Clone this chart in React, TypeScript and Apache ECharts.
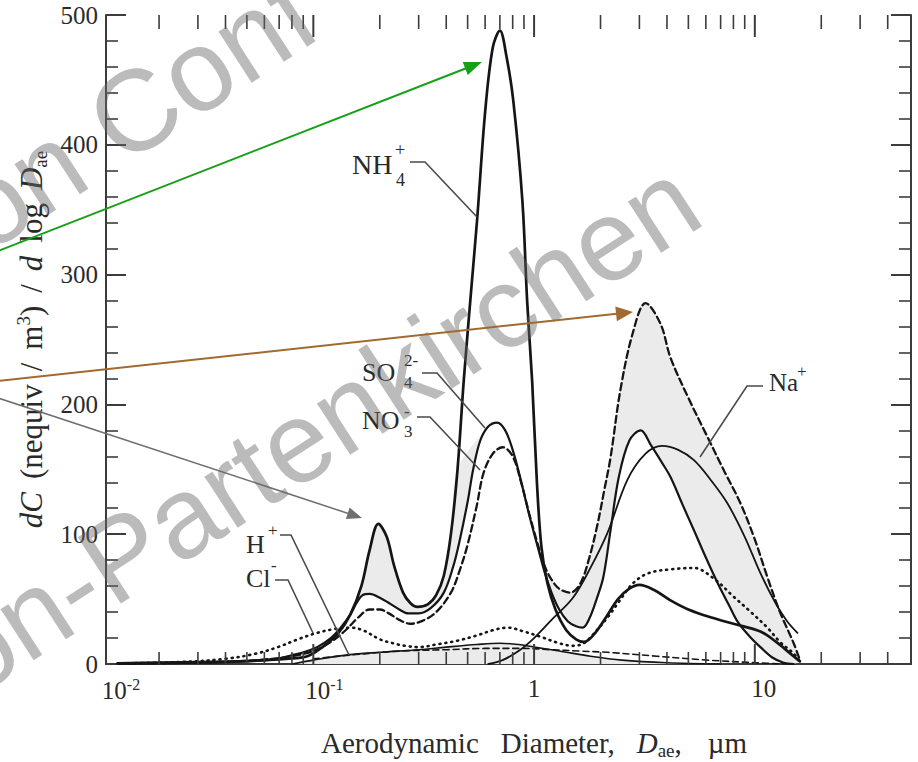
import React, { useEffect, useRef } from "react";
import * as echarts from "echarts";

type P = [number, number];

// ---- data: [aerodynamic diameter (µm), dC/dlogDae (nequiv/m3)] ----
const nh4: P[] = [
  [0.013, 0.5], [0.02, 1], [0.03, 1.5], [0.045, 2], [0.06, 3], [0.075, 4], [0.094, 6], [0.11, 13], [0.13, 24],
  [0.147, 38], [0.165, 60], [0.18, 88], [0.197, 108], [0.215, 98], [0.232, 76], [0.255, 55], [0.275, 47],
  [0.296, 44], [0.33, 46], [0.36, 53], [0.39, 68], [0.42, 100], [0.45, 150], [0.48, 218], [0.52, 290],
  [0.553, 344], [0.6, 425], [0.65, 475], [0.7, 488], [0.75, 468], [0.805, 434], [0.885, 357], [0.93, 280],
  [0.98, 218], [1.03, 140], [1.08, 90], [1.15, 62], [1.25, 42], [1.4, 26], [1.55, 19], [1.68, 17], [1.85, 22],
  [2.1, 35], [2.4, 50], [2.7, 58], [3.0, 61], [3.5, 57], [4.15, 49], [5.0, 42], [6.3, 36], [8.0, 31],
  [10.6, 25], [12.5, 17], [14.5, 8], [16, 2],
];
const so4: P[] = [
  [0.013, 0.3], [0.03, 1], [0.05, 2], [0.065, 3.5], [0.081, 7], [0.094, 10], [0.104, 13], [0.12, 20], [0.133, 28],
  [0.147, 38], [0.157, 47], [0.167, 53], [0.18, 54], [0.2, 51], [0.22, 47], [0.245, 42], [0.27, 39], [0.3, 39],
  [0.34, 43], [0.39, 55], [0.43, 75], [0.46, 95], [0.5, 125], [0.53, 150], [0.57, 172], [0.62, 183], [0.68, 186],
  [0.74, 180], [0.8, 165], [0.87, 142], [0.95, 115], [1.04, 90], [1.12, 70], [1.2, 55], [1.3, 42], [1.42, 33],
  [1.55, 29], [1.66, 28], [1.78, 35], [1.92, 50], [2.06, 67], [2.22, 103], [2.42, 144], [2.7, 172], [3.04, 180],
  [3.4, 168], [3.8, 155], [4.15, 144], [4.7, 123], [5.3, 103], [6.0, 82], [6.8, 62], [7.6, 46], [8.4, 32],
  [9.5, 21], [10.6, 13], [12, 5], [13.5, 1], [15, 0],
];
const no3: P[] = [
  [0.013, 0.3], [0.03, 1], [0.05, 2.5], [0.065, 4], [0.08, 6], [0.1, 10], [0.12, 17], [0.14, 26], [0.16, 36],
  [0.18, 42], [0.2, 42], [0.22, 39], [0.245, 34], [0.275, 31], [0.31, 33], [0.36, 40], [0.42, 55], [0.46, 72],
  [0.5, 92], [0.55, 122], [0.59, 147], [0.65, 162], [0.72, 167], [0.8, 160], [0.87, 141], [0.95, 116], [1.04, 92],
  [1.12, 75], [1.2, 65], [1.3, 58], [1.46, 55], [1.62, 62], [1.78, 82], [1.94, 108], [2.08, 134], [2.22, 159],
  [2.46, 211], [2.8, 255], [3.2, 278], [3.74, 262], [4.15, 236], [5.0, 205], [6.1, 175], [7.3, 148], [8.6, 124],
  [10, 96], [11.4, 67], [13, 40], [15, 16], [16, 3],
];
const naPlus: P[] = [
  [0.62, 0], [0.72, 3], [0.85, 10], [1.0, 20], [1.2, 34], [1.5, 51], [1.8, 74], [2.15, 101], [2.65, 142],
  [3.2, 162], [3.8, 168], [4.5, 165], [5.3, 157], [6.3, 142], [7.5, 124], [9, 98], [10.6, 70], [12.5, 46],
  [14, 33], [15.6, 24],
];
const clMinus: P[] = [
  [0.013, 0.5], [0.025, 1.5], [0.04, 4], [0.055, 8], [0.069, 13], [0.085, 19], [0.104, 24], [0.125, 27],
  [0.147, 28], [0.168, 26], [0.2, 19], [0.23, 16], [0.26, 14], [0.3, 13], [0.36, 15], [0.45, 18], [0.55, 22],
  [0.65, 26], [0.76, 28], [0.9, 25], [1.07, 21], [1.3, 16], [1.5, 14], [1.68, 16], [1.9, 25], [2.2, 38],
  [2.4, 47], [2.8, 62], [3.3, 70], [4.2, 73], [5.3, 74], [6.5, 66], [8, 52], [9.6, 40], [11.4, 28], [13, 17],
  [15, 8], [16, 2],
];
const hPlus: P[] = [
  [0.08, 0], [0.1, 3], [0.143, 7], [0.2, 9], [0.3, 11], [0.4, 13], [0.55, 15], [0.7, 16], [0.85, 15],
  [1.0, 13], [1.3, 10], [1.8, 6], [2.5, 3], [4, 1], [7, 0],
];
const lowDashed: P[] = [
  [0.1, 4], [0.15, 7], [0.25, 10], [0.4, 11], [0.6, 12], [0.9, 12], [1.2, 11], [1.6, 10], [2.15, 9],
  [3.6, 6], [6.1, 3], [10, 1], [14, 0],
];

// ---- axes ----
const xMin = 0.0115;
const xMax = 51;
const xMajorTicks = [0.1, 1, 10];
const xMinorTicks = [
  0.02, 0.03, 0.04, 0.05, 0.06, 0.07, 0.08, 0.09, 0.2, 0.3, 0.4, 0.5, 0.6, 0.7, 0.8, 0.9,
  2, 3, 4, 5, 6, 7, 8, 9, 20, 30, 40,
];
const xTickLabels = ["10|-2", "10|-1", "1", "10"];
const yMin = 0;
const yMax = 500;
const yStep = 100;

const SERIF = "Liberation Serif, DejaVu Serif, serif";
const SANS = "Liberation Sans, Arial, sans-serif";
const INK = "#151515";
const TXT = "#2a2a2a";
const AXIS = "#3c3c3c";
const SHADE = "#ebebeb";

function arrow(x0: number, y0: number, x1: number, y1: number, color: string, w: number, head: number, half: number) {
  const dx = x1 - x0, dy = y1 - y0, L = Math.hypot(dx, dy);
  const ux = dx / L, uy = dy / L;
  const bx = x1 - ux * head, by = y1 - uy * head;
  const px = -uy, py = ux;
  return [
    { type: "line", z: 120, silent: true, shape: { x1: x0, y1: y0, x2: bx + ux * 3, y2: by + uy * 3 }, style: { stroke: color, lineWidth: w } },
    { type: "polygon", z: 120, silent: true, shape: { points: [[x1, y1], [bx + px * half, by + py * half], [bx - px * half, by - py * half]] }, style: { fill: color } },
  ];
}

function txt(x: number, y: number, text: string, size: number) {
  return {
    type: "text", x, y, z: 60, silent: true,
    style: { text, fontSize: size, fontFamily: SERIF, fill: TXT, align: "left", verticalAlign: "middle", textAlign: "left", textVerticalAlign: "middle" },
  };
}
function leader(points: number[][]) {
  return { type: "polyline", z: 60, silent: true, shape: { points }, style: { stroke: "#4a4a4a", lineWidth: 1.6, fill: null } };
}

function bandSeries(upper: P[], lower: P[]) {
  return {
    type: "custom", z: 1, silent: true, data: [[1, 1]],
    renderItem: (_p: any, api: any) => {
      const pts = upper.map((p) => api.coord(p)).concat(lower.slice().reverse().map((p) => api.coord(p)));
      return { type: "polygon", shape: { points: pts, smooth: 0.3 }, style: { fill: SHADE } };
    },
  };
}

function lineSeries(name: string, data: P[], width: number, type: any, extra: any = {}) {
  return {
    name, type: "line", data, smooth: 0.35, symbol: "none", showSymbol: false, z: 3, silent: true,
    lineStyle: { color: INK, width, type, cap: "round" },
    ...extra,
  };
}

export default function App() {
  const ref = useRef<HTMLDivElement>(null);
  useEffect(() => {
    const chart = echarts.init(ref.current!, null, { renderer: "svg" });
    const tickData = [...xMajorTicks.map((v) => [v, 1, 1]), ...xMinorTicks.map((v) => [v, 1, 0])];
    const labelRich = {
      b2: { fontSize: 25, fontFamily: SERIF, color: TXT, padding: [0, 0, 0, 30] },
      b1: { fontSize: 25, fontFamily: SERIF, color: TXT, padding: [0, 0, 0, 22] },
      n0: { fontSize: 25, fontFamily: SERIF, color: TXT },
      n10: { fontSize: 25, fontFamily: SERIF, color: TXT, padding: [0, 0, 0, 18] },
      s: { fontSize: 16, fontFamily: SERIF, color: TXT, verticalAlign: "top", lineHeight: 28 },
    };
    const xFormatter = (v: number) => {
      if (v > 20) return "";
      const e = Math.round(Math.log10(v));
      const lab = e <= -2 ? xTickLabels[0] : e === -1 ? xTickLabels[1] : e === 0 ? xTickLabels[2] : xTickLabels[3];
      if (lab.includes("|")) {
        const [b, s] = lab.split("|");
        return `{${e <= -2 ? "b2" : "b1"}|${b}}{s|${s}}`;
      }
      return `{${e === 0 ? "n0" : "n10"}|${lab}}`;
    };

    const graphic: any[] = [
      // watermark
      {
        type: "text", x: -3, y: 269, rotation: (33 * Math.PI) / 180, z: 90, silent: true,
        style: { text: "on Conf", fontSize: 115, fontFamily: SANS, fill: "rgba(105,105,105,0.45)", align: "left", verticalAlign: "bottom", textAlign: "left", textVerticalAlign: "bottom" },
      },
      {
        type: "text", x: -17, y: 714, rotation: (33 * Math.PI) / 180, z: 90, silent: true,
        style: { text: "on-Partenkirchen", fontSize: 115, fontFamily: SANS, fill: "rgba(105,105,105,0.45)", align: "left", verticalAlign: "bottom", textAlign: "left", textVerticalAlign: "bottom" },
      },
      // labels
      txt(352, 164, "NH", 28), txt(395, 150, "+", 18), txt(396, 180, "4", 18),
      leader([[410, 162], [425, 162], [477, 217]]),
      txt(362, 372, "SO", 26), txt(404, 360, "2-", 17), txt(404, 382, "4", 17),
      leader([[422, 373], [437, 373], [485, 428]]),
      txt(362, 420, "NO", 26), txt(404, 411, "-", 17), txt(404, 431, "3", 17),
      leader([[417, 417], [430, 417], [480, 470]]),
      txt(246, 544, "H", 26), txt(268, 530, "+", 17),
      leader([[280, 535], [291, 535], [349, 655]]),
      txt(246, 578, "Cl", 26), txt(271, 565, "-", 17),
      leader([[275, 580], [288, 580], [313, 633]]),
      txt(769, 382, "Na", 25), txt(797, 371, "+", 17),
      leader([[763, 386], [747, 386], [700, 457]]),
      // coloured arrows
      ...arrow(-2, 251, 482, 62, "#16a016", 2, 18, 7),
      ...arrow(-2, 381, 633, 312, "#a06a30", 2, 17, 7.5),
      ...arrow(-2, 398, 362, 518, "#6e6e6e", 1.5, 15, 6),
    ];

    const option: any = {
      animation: false,
      backgroundColor: "#ffffff",
      grid: { left: 106, right: 7, top: 15, bottom: 98, containLabel: false, outerBoundsMode: "none" },
      xAxis: [
        {
          type: "log", logBase: 10, min: xMin, max: xMax, position: "bottom",
          axisLine: { show: true, lineStyle: { color: AXIS, width: 2 } },
          axisTick: { show: false }, minorTick: { show: false }, splitLine: { show: false },
          axisLabel: { formatter: xFormatter, rich: labelRich, margin: 12, showMinLabel: true, showMaxLabel: false, hideOverlap: false },
          name: "{g0|}{t|Aerodynamic}{g|}{t|Diameter,}{g|}{i|D}{sub|ae}{t|,}{g2|}{t|µm}",
          nameLocation: "middle", nameGap: 62,
          nameTextStyle: {
            fontFamily: SERIF, fontSize: 29, color: TXT,
            rich: {
              g0: { width: 51 },
              g: { width: 22 },
              g2: { width: 26 },
              t: { fontSize: 29, fontFamily: SERIF, color: TXT, lineHeight: 34 },
              i: { fontSize: 29, fontFamily: SERIF, color: TXT, fontStyle: "italic", lineHeight: 34 },
              sub: { fontSize: 19, fontFamily: SERIF, color: TXT, verticalAlign: "bottom", lineHeight: 34 },
            },
          },
        },
        {
          type: "log", logBase: 10, min: xMin, max: xMax, position: "top",
          axisLine: { show: true, lineStyle: { color: AXIS, width: 2 } },
          axisTick: { show: false }, axisLabel: { show: false }, splitLine: { show: false },
        },
      ],
      yAxis: [
        {
          type: "value", min: yMin, max: yMax, interval: yStep, position: "left",
          axisLine: { show: true, lineStyle: { color: AXIS, width: 2 } },
          axisTick: { show: true, inside: true, length: 20, lineStyle: { color: AXIS, width: 2 } },
          minorTick: { show: true, splitNumber: 5, length: 12, lineStyle: { color: AXIS, width: 1.6 } },
          splitLine: { show: false }, minorSplitLine: { show: false },
          axisLabel: { fontSize: 25, fontFamily: SERIF, color: TXT, margin: 8 },
          name: "{i|dC}{sp|}{t|(nequiv}{sp|}{t|/}{sp|}{t|m}{sup|3}{t|)}{sp|}{t|/}{sp|}{i|d}{sp|}{t|log}{sp|}{i|D}{sub|ae}",
          nameLocation: "middle", nameRotate: 90, nameGap: 48,
          nameTextStyle: {
            fontSize: 31, fontFamily: SERIF, color: TXT,
            rich: {
              sp: { width: 13 },
              t: { fontSize: 31, fontFamily: SERIF, color: TXT, lineHeight: 36 },
              i: { fontSize: 31, fontFamily: SERIF, color: TXT, fontStyle: "italic", lineHeight: 36 },
              sup: { fontSize: 19, fontFamily: SERIF, color: TXT, verticalAlign: "top", lineHeight: 36 },
              sub: { fontSize: 19, fontFamily: SERIF, color: TXT, verticalAlign: "bottom", lineHeight: 36 },
            },
          },
        },
        {
          type: "value", min: yMin, max: yMax, interval: yStep, position: "right",
          axisLine: { show: true, lineStyle: { color: AXIS, width: 2 } },
          axisTick: { show: true, inside: true, length: 20, lineStyle: { color: AXIS, width: 2 } },
          minorTick: { show: true, splitNumber: 5, length: 12, lineStyle: { color: AXIS, width: 1.6 } },
          splitLine: { show: false }, axisLabel: { show: false },
        },
      ],
      series: [
        bandSeries(nh4.filter((p) => p[0] >= 0.147 && p[0] <= 0.465), so4.filter((p) => p[0] >= 0.147 && p[0] <= 0.62)),
        bandSeries(no3.filter((p) => p[0] >= 1.04), so4.filter((p) => p[0] >= 1.04)),
        {
          type: "custom", z: 5, silent: true, data: tickData, encode: { x: 0, y: 1 },
          renderItem: (_p: any, api: any) => {
            const v = api.value(0);
            const major = api.value(2) === 1;
            const b = api.coord([v, yMin]);
            const t = api.coord([v, yMax]);
            const lb = major ? 20 : 12;
            const lt = major ? 22 : 14;
            const st = { stroke: AXIS, lineWidth: major ? 2 : 1.6 };
            return {
              type: "group",
              children: [
                { type: "line", shape: { x1: b[0], y1: b[1], x2: b[0], y2: b[1] - lb }, style: st },
                { type: "line", shape: { x1: t[0], y1: t[1], x2: t[0], y2: t[1] + lt }, style: st },
              ],
            };
          },
        },
        lineSeries("H+", hPlus, 1.6, "solid", { areaStyle: { color: SHADE, opacity: 1 } }),
        lineSeries("low", lowDashed, 1.6, [6, 4]),
        lineSeries("Cl-", clMinus, 2.6, [1, 5]),
        lineSeries("Na+", naPlus, 1.8, "solid"),
        lineSeries("NO3-", no3, 2.3, [7, 4]),
        lineSeries("SO4 2-", so4, 2.2, "solid"),
        lineSeries("NH4+", nh4, 2.7, "solid"),
      ],
      graphic,
    };
    chart.setOption(option);
    return () => chart.dispose();
  }, []);
  return (
    <div
      ref={ref}
      style={{ position: "fixed", left: 0, top: 0, width: 918, height: 762, background: "#ffffff" }}
    />
  );
}
